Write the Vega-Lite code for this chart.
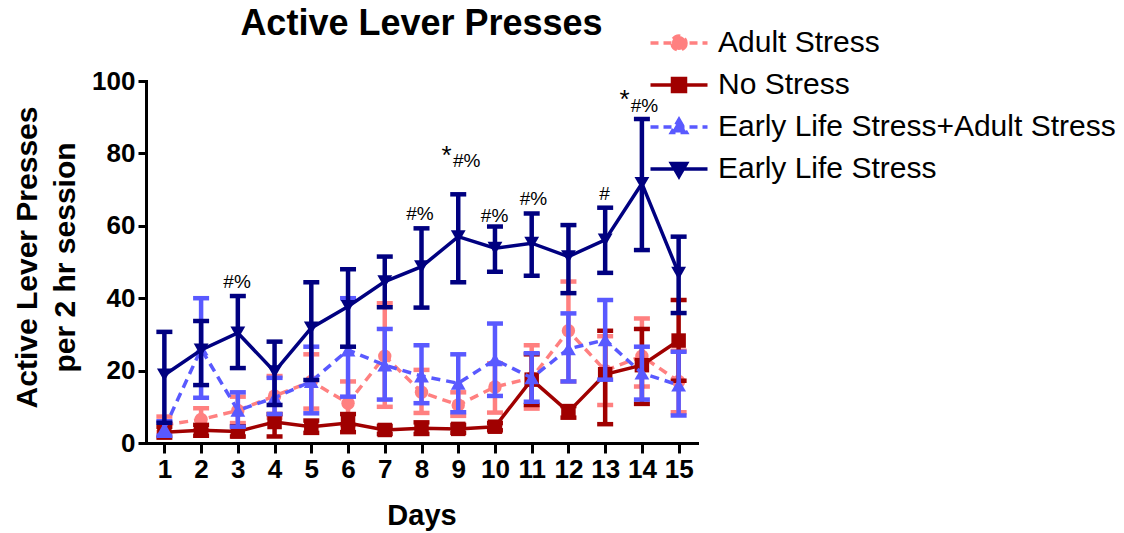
{
  "$schema": "https://vega.github.io/schema/vega-lite/v6.json",
  "autosize": {"type": "none"},
  "width": 551,
  "height": 362,
  "padding": {"left": 146, "top": 81, "right": 427, "bottom": 90},
  "background": "white",
  "title": {"text": "Active Lever Presses", "font": "Liberation Sans", "fontSize": 36, "fontWeight": "bold", "color": "black", "anchor": "middle", "frame": "group", "baseline": "alphabetic", "offset": 0, "dy": 43},
  "config": {
    "view": {"stroke": null},
    "axis": {"grid": false, "domainColor": "black", "domainWidth": 3, "domainCap": "square", "tickColor": "black", "tickWidth": 3, "labelColor": "black", "labelFont": "Liberation Sans", "labelFontWeight": "bold", "labelFontSize": 26, "titleFont": "Liberation Sans", "titleFontWeight": "bold", "titleFontSize": 29, "titleColor": "black", "labelFlush": false, "labelOverlap": false}
  },
  "datasets": {
    "series": [
      {"group": "Adult Stress", "day": 1, "mean": 5, "lo": 3, "hi": 7.3},
      {"group": "Adult Stress", "day": 2, "mean": 6.5, "lo": 3.5, "hi": 9.6},
      {"group": "Adult Stress", "day": 3, "mean": 9, "lo": 5.5, "hi": 12.8},
      {"group": "Adult Stress", "day": 4, "mean": 13, "lo": 7, "hi": 18.5},
      {"group": "Adult Stress", "day": 5, "mean": 17, "lo": 9.5, "hi": 24.5},
      {"group": "Adult Stress", "day": 6, "mean": 11, "lo": 5, "hi": 17},
      {"group": "Adult Stress", "day": 7, "mean": 24, "lo": 10, "hi": 38.6},
      {"group": "Adult Stress", "day": 8, "mean": 14, "lo": 8.3, "hi": 20.2},
      {"group": "Adult Stress", "day": 9, "mean": 10.5, "lo": 7.5, "hi": 14},
      {"group": "Adult Stress", "day": 10, "mean": 15.5, "lo": 8.4, "hi": 22},
      {"group": "Adult Stress", "day": 11, "mean": 18, "lo": 9.5, "hi": 27},
      {"group": "Adult Stress", "day": 12, "mean": 31, "lo": 17, "hi": 44.6},
      {"group": "Adult Stress", "day": 13, "mean": 20, "lo": 10.5, "hi": 29.5},
      {"group": "Adult Stress", "day": 14, "mean": 24, "lo": 15.6, "hi": 34.4},
      {"group": "Adult Stress", "day": 15, "mean": 17, "lo": 8.5, "hi": 25.5},
      {"group": "No Stress", "day": 1, "mean": 3, "lo": 1.5, "hi": 4.5},
      {"group": "No Stress", "day": 2, "mean": 3.5, "lo": 2, "hi": 5},
      {"group": "No Stress", "day": 3, "mean": 3.2, "lo": 1.8, "hi": 4.6},
      {"group": "No Stress", "day": 4, "mean": 5.8, "lo": 1.8, "hi": 8},
      {"group": "No Stress", "day": 5, "mean": 4.5, "lo": 2.8, "hi": 6.2},
      {"group": "No Stress", "day": 6, "mean": 5.5, "lo": 3, "hi": 8},
      {"group": "No Stress", "day": 7, "mean": 3.6, "lo": 2.5, "hi": 4.7},
      {"group": "No Stress", "day": 8, "mean": 4.1, "lo": 2.5, "hi": 5.7},
      {"group": "No Stress", "day": 9, "mean": 3.9, "lo": 2.8, "hi": 5},
      {"group": "No Stress", "day": 10, "mean": 4.5, "lo": 3.5, "hi": 5.5},
      {"group": "No Stress", "day": 11, "mean": 17.5, "lo": 10.5, "hi": 24.5},
      {"group": "No Stress", "day": 12, "mean": 8.6, "lo": 7, "hi": 10.2},
      {"group": "No Stress", "day": 13, "mean": 19, "lo": 5.2, "hi": 31},
      {"group": "No Stress", "day": 14, "mean": 21.5, "lo": 10.8, "hi": 31.5},
      {"group": "No Stress", "day": 15, "mean": 28.3, "lo": 17.2, "hi": 39.5},
      {"group": "Early Life Stress+Adult Stress", "day": 1, "mean": 4, "lo": 2, "hi": 6},
      {"group": "Early Life Stress+Adult Stress", "day": 2, "mean": 26, "lo": 12.5, "hi": 40},
      {"group": "Early Life Stress+Adult Stress", "day": 3, "mean": 9, "lo": 4.5, "hi": 14},
      {"group": "Early Life Stress+Adult Stress", "day": 4, "mean": 12.5, "lo": 8, "hi": 18},
      {"group": "Early Life Stress+Adult Stress", "day": 5, "mean": 17, "lo": 8.2, "hi": 26.6},
      {"group": "Early Life Stress+Adult Stress", "day": 6, "mean": 25.7, "lo": 12.8, "hi": 40},
      {"group": "Early Life Stress+Adult Stress", "day": 7, "mean": 21.5, "lo": 12, "hi": 31.5},
      {"group": "Early Life Stress+Adult Stress", "day": 8, "mean": 18.5, "lo": 11, "hi": 27},
      {"group": "Early Life Stress+Adult Stress", "day": 9, "mean": 16.5, "lo": 8.5, "hi": 24.5},
      {"group": "Early Life Stress+Adult Stress", "day": 10, "mean": 23, "lo": 13, "hi": 33},
      {"group": "Early Life Stress+Adult Stress", "day": 11, "mean": 18, "lo": 11.4, "hi": 24.8},
      {"group": "Early Life Stress+Adult Stress", "day": 12, "mean": 26, "lo": 17, "hi": 35.8},
      {"group": "Early Life Stress+Adult Stress", "day": 13, "mean": 28.5, "lo": 17.5, "hi": 39.5},
      {"group": "Early Life Stress+Adult Stress", "day": 14, "mean": 19.3, "lo": 12, "hi": 26.6},
      {"group": "Early Life Stress+Adult Stress", "day": 15, "mean": 16, "lo": 7.6, "hi": 25.2},
      {"group": "Early Life Stress", "day": 1, "mean": 18.8, "lo": 5.6, "hi": 30.7},
      {"group": "Early Life Stress", "day": 2, "mean": 25.7, "lo": 16, "hi": 33.7},
      {"group": "Early Life Stress", "day": 3, "mean": 30.4, "lo": 20.7, "hi": 40.6},
      {"group": "Early Life Stress", "day": 4, "mean": 19.7, "lo": 10.5, "hi": 28},
      {"group": "Early Life Stress", "day": 5, "mean": 31.8, "lo": 17.4, "hi": 44.4},
      {"group": "Early Life Stress", "day": 6, "mean": 37.7, "lo": 26.6, "hi": 48},
      {"group": "Early Life Stress", "day": 7, "mean": 44.6, "lo": 37.5, "hi": 51.5},
      {"group": "Early Life Stress", "day": 8, "mean": 48.7, "lo": 37.4, "hi": 59.3},
      {"group": "Early Life Stress", "day": 9, "mean": 57, "lo": 44.4, "hi": 68.7},
      {"group": "Early Life Stress", "day": 10, "mean": 53.8, "lo": 47.3, "hi": 59.8},
      {"group": "Early Life Stress", "day": 11, "mean": 55.2, "lo": 46.2, "hi": 63.4},
      {"group": "Early Life Stress", "day": 12, "mean": 51.5, "lo": 41.4, "hi": 60.2},
      {"group": "Early Life Stress", "day": 13, "mean": 56.1, "lo": 47, "hi": 65},
      {"group": "Early Life Stress", "day": 14, "mean": 71.7, "lo": 53.3, "hi": 89.5},
      {"group": "Early Life Stress", "day": 15, "mean": 46.9, "lo": 35.9, "hi": 57}
    ],
    "notes": [
      {"day": 2.98, "y": 44.5, "label": "#%"},
      {"day": 7.96, "y": 63.3, "label": "#%"},
      {"day": 9.23, "y": 77.8, "label": "#%"},
      {"day": 9.99, "y": 62.7, "label": "#%"},
      {"day": 11.05, "y": 67.3, "label": "#%"},
      {"day": 12.98, "y": 68.8, "label": "#"},
      {"day": 14.07, "y": 93, "label": "#%"},
      {"day": 8.68, "y": 79.2, "label": "*"},
      {"day": 13.53, "y": 94.8, "label": "*"}
    ]
  },
  "encoding": {
    "x": {"field": "day", "type": "quantitative", "scale": {"domain": [0.5, 15.5], "nice": false, "zero": false},
      "axis": {"values": [1,2,3,4,5,6,7,8,9,10,11,12,13,14,15], "title": "Days", "tickSize": 10, "labelPadding": 3, "titleY": 81, "titleBaseline": "alphabetic"}},
    "color": {"field": "group", "type": "nominal",
      "scale": {"domain": ["Adult Stress", "No Stress", "Early Life Stress+Adult Stress", "Early Life Stress"], "range": ["#FF8080", "#A00000", "#5959FF", "#000080"]},
      "legend": {"title": null, "orient": "none", "legendX": 518, "legendY": -53, "padding": 0,
        "labelFont": "Liberation Sans", "labelFontSize": 30, "labelColor": "black", "labelLimit": 600,
        "symbolSize": 400, "labelOffset": 24, "rowPadding": 12, "symbolStrokeWidth": 3.5,
        "encode": {"symbols": {"update": {
          "shape": {"signal": "datum.value === 'Adult Stress' ? 'M-2.85,0H2.85M0.7,0A0.7,0.7,0,1,1,-0.7,0A0.7,0.7,0,1,1,0.7,0Z' : datum.value === 'No Stress' ? 'M-2.85,0H2.85M-0.65,-0.65H0.65V0.65H-0.65Z' : datum.value === 'Early Life Stress+Adult Stress' ? 'M-2.85,0H2.85M0,-0.75L0.75,0.55L-0.75,0.55Z' : 'M-2.85,0H2.85M0,0.75L0.75,-0.55L-0.75,-0.55Z'"},
          "strokeDash": {"signal": "(datum.value === 'Adult Stress' || datum.value === 'Early Life Stress+Adult Stress') ? [8,5] : []"},
          "fill": {"scale": "color", "field": "value"},
          "stroke": {"scale": "color", "field": "value"},
          "strokeWidth": {"value": 3.5},
          "opacity": {"value": 1}
        }}}}
    }
  },
  "layer": [
    {
      "data": {"name": "series"},
      "transform": [{"filter": "datum.group === 'Adult Stress'"}],
      "layer": [
        {"mark": {"type": "line", "strokeWidth": 3.5, "strokeDash": [9, 6]},
         "encoding": {"y": {"field": "mean", "type": "quantitative", "scale": {"domain": [0, 100], "nice": false},
           "axis": {"values": [0, 20, 40, 60, 80, 100], "title": ["Active Lever Presses", "per 2 hr session"], "tickSize": 8, "labelPadding": 3, "titleX": -134, "titleY": 176, "titleAngle": -90, "titleAlign": "center", "titleBaseline": "top", "titleLineHeight": 38, "titleFontSize": 30}}}},
        {"mark": {"type": "rule", "strokeWidth": 4.5}, "encoding": {"y": {"field": "lo", "type": "quantitative"}, "y2": {"field": "hi"}}},
        {"mark": {"type": "tick", "orient": "horizontal", "size": 16, "thickness": 4.5, "opacity": 1}, "encoding": {"y": {"field": "lo", "type": "quantitative"}}},
        {"mark": {"type": "tick", "orient": "horizontal", "size": 16, "thickness": 4.5, "opacity": 1}, "encoding": {"y": {"field": "hi", "type": "quantitative"}}},
        {"mark": {"type": "point", "shape": "circle", "filled": true, "size": 180, "opacity": 1}, "encoding": {"y": {"field": "mean", "type": "quantitative"}}}
      ]
    },
    {
      "data": {"name": "series"},
      "transform": [{"filter": "datum.group === 'No Stress'"}],
      "layer": [
        {"mark": {"type": "line", "strokeWidth": 3.5}, "encoding": {"y": {"field": "mean", "type": "quantitative"}}},
        {"mark": {"type": "rule", "strokeWidth": 4.5}, "encoding": {"y": {"field": "lo", "type": "quantitative"}, "y2": {"field": "hi"}}},
        {"mark": {"type": "tick", "orient": "horizontal", "size": 16, "thickness": 4.5, "opacity": 1}, "encoding": {"y": {"field": "lo", "type": "quantitative"}}},
        {"mark": {"type": "tick", "orient": "horizontal", "size": 16, "thickness": 4.5, "opacity": 1}, "encoding": {"y": {"field": "hi", "type": "quantitative"}}},
        {"mark": {"type": "point", "shape": "square", "filled": true, "size": 210, "opacity": 1}, "encoding": {"y": {"field": "mean", "type": "quantitative"}}}
      ]
    },
    {
      "data": {"name": "series"},
      "transform": [{"filter": "datum.group === 'Early Life Stress+Adult Stress'"}],
      "layer": [
        {"mark": {"type": "line", "strokeWidth": 3.5, "strokeDash": [9, 6]}, "encoding": {"y": {"field": "mean", "type": "quantitative"}}},
        {"mark": {"type": "rule", "strokeWidth": 4.5}, "encoding": {"y": {"field": "lo", "type": "quantitative"}, "y2": {"field": "hi"}}},
        {"mark": {"type": "tick", "orient": "horizontal", "size": 16, "thickness": 4.5, "opacity": 1}, "encoding": {"y": {"field": "lo", "type": "quantitative"}}},
        {"mark": {"type": "tick", "orient": "horizontal", "size": 16, "thickness": 4.5, "opacity": 1}, "encoding": {"y": {"field": "hi", "type": "quantitative"}}},
        {"mark": {"type": "point", "shape": "triangle-up", "filled": true, "size": 220, "opacity": 1}, "encoding": {"y": {"field": "mean", "type": "quantitative"}}}
      ]
    },
    {
      "data": {"name": "series"},
      "transform": [{"filter": "datum.group === 'Early Life Stress'"}],
      "layer": [
        {"mark": {"type": "line", "strokeWidth": 3.5}, "encoding": {"y": {"field": "mean", "type": "quantitative"}}},
        {"mark": {"type": "rule", "strokeWidth": 4.5}, "encoding": {"y": {"field": "lo", "type": "quantitative"}, "y2": {"field": "hi"}}},
        {"mark": {"type": "tick", "orient": "horizontal", "size": 16, "thickness": 4.5, "opacity": 1}, "encoding": {"y": {"field": "lo", "type": "quantitative"}}},
        {"mark": {"type": "tick", "orient": "horizontal", "size": 16, "thickness": 4.5, "opacity": 1}, "encoding": {"y": {"field": "hi", "type": "quantitative"}}},
        {"mark": {"type": "point", "shape": "triangle-down", "filled": true, "size": 220, "opacity": 1}, "encoding": {"y": {"field": "mean", "type": "quantitative"}}}
      ]
    },
    {
      "data": {"name": "notes"},
      "transform": [{"filter": "datum.label !== '*'"}],
      "mark": {"type": "text", "font": "Liberation Sans", "fontSize": 19, "baseline": "middle", "align": "center"},
      "encoding": {"y": {"field": "y", "type": "quantitative"}, "text": {"field": "label"}, "color": {"value": "black"}}
    },
    {
      "data": {"name": "notes"},
      "transform": [{"filter": "datum.label === '*'"}],
      "mark": {"type": "text", "font": "Liberation Sans", "fontSize": 26, "baseline": "middle", "align": "center"},
      "encoding": {"y": {"field": "y", "type": "quantitative"}, "text": {"field": "label"}, "color": {"value": "black"}}
    }
  ]
}
